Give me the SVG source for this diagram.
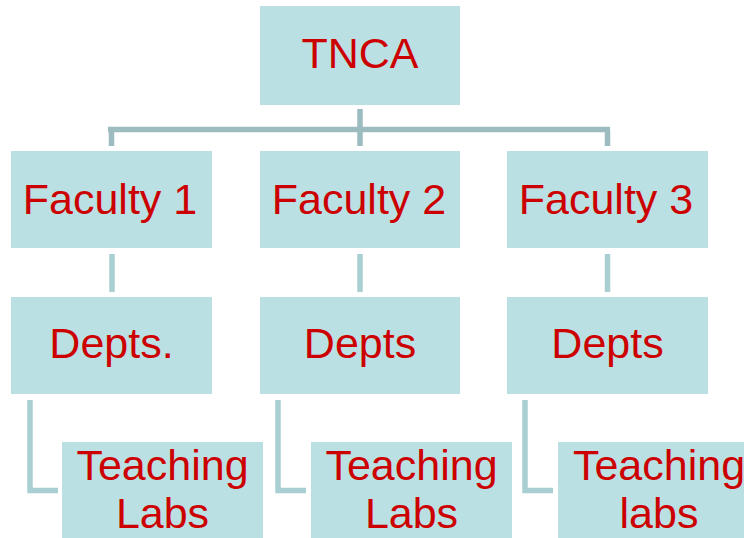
<svg xmlns="http://www.w3.org/2000/svg" width="744" height="538" viewBox="0 0 744 538">
<style>
.box{fill:#BBE0E3}
.t{font-family:"Liberation Sans",Arial,sans-serif;font-size:43px;fill:#CC0000;text-anchor:middle}
.bar{stroke:#9DBCC0;stroke-width:5.5;fill:none}
.ln{stroke:#A9CFD3;stroke-width:5.5;fill:none}
</style>
<rect width="744" height="538" fill="#ffffff"/>
<g id="connectors">
<path class="bar" d="M108 129.5 H610"/>
<path class="bar" d="M360 109 V146"/>
<path class="bar" d="M111.5 129.5 V146"/>
<path class="bar" d="M607.5 129.5 V146"/>
<path class="ln" d="M112 254 V292"/>
<path class="ln" d="M360 254 V292"/>
<path class="ln" d="M607.5 254 V292"/>
<path class="ln" d="M30 400 V490.5 H58"/>
<path class="ln" d="M278 400 V490.5 H306"/>
<path class="ln" d="M525 400 V490.5 H553"/>
</g>
<g id="tnca"><rect class="box" x="260" y="6" width="200" height="99"/><text class="t" x="360" y="68">TNCA</text></g>
<g id="faculty1"><rect class="box" x="11" y="151" width="201" height="97"/><text class="t" x="110" y="214">Faculty 1</text></g>
<g id="faculty2"><rect class="box" x="260" y="151" width="200" height="97"/><text class="t" x="359" y="214">Faculty 2</text></g>
<g id="faculty3"><rect class="box" x="507" y="151" width="201" height="97"/><text class="t" x="606" y="214">Faculty 3</text></g>
<g id="depts1"><rect class="box" x="11" y="297" width="201" height="97"/><text class="t" x="111.5" y="358">Depts.</text></g>
<g id="depts2"><rect class="box" x="260" y="297" width="200" height="97"/><text class="t" x="360" y="358">Depts</text></g>
<g id="depts3"><rect class="box" x="507" y="297" width="201" height="97"/><text class="t" x="607.5" y="358">Depts</text></g>
<g id="labs1"><rect class="box" x="62" y="442" width="201" height="98"/><text class="t" x="162.5" y="480">Teaching</text><text class="t" x="162.5" y="528">Labs</text></g>
<g id="labs2"><rect class="box" x="311" y="442" width="201" height="98"/><text class="t" x="411.5" y="480">Teaching</text><text class="t" x="411.5" y="528">Labs</text></g>
<g id="labs3"><rect class="box" x="558" y="442" width="202" height="98"/><text class="t" x="659" y="480">Teaching</text><text class="t" x="659" y="528">labs</text></g>
</svg>
